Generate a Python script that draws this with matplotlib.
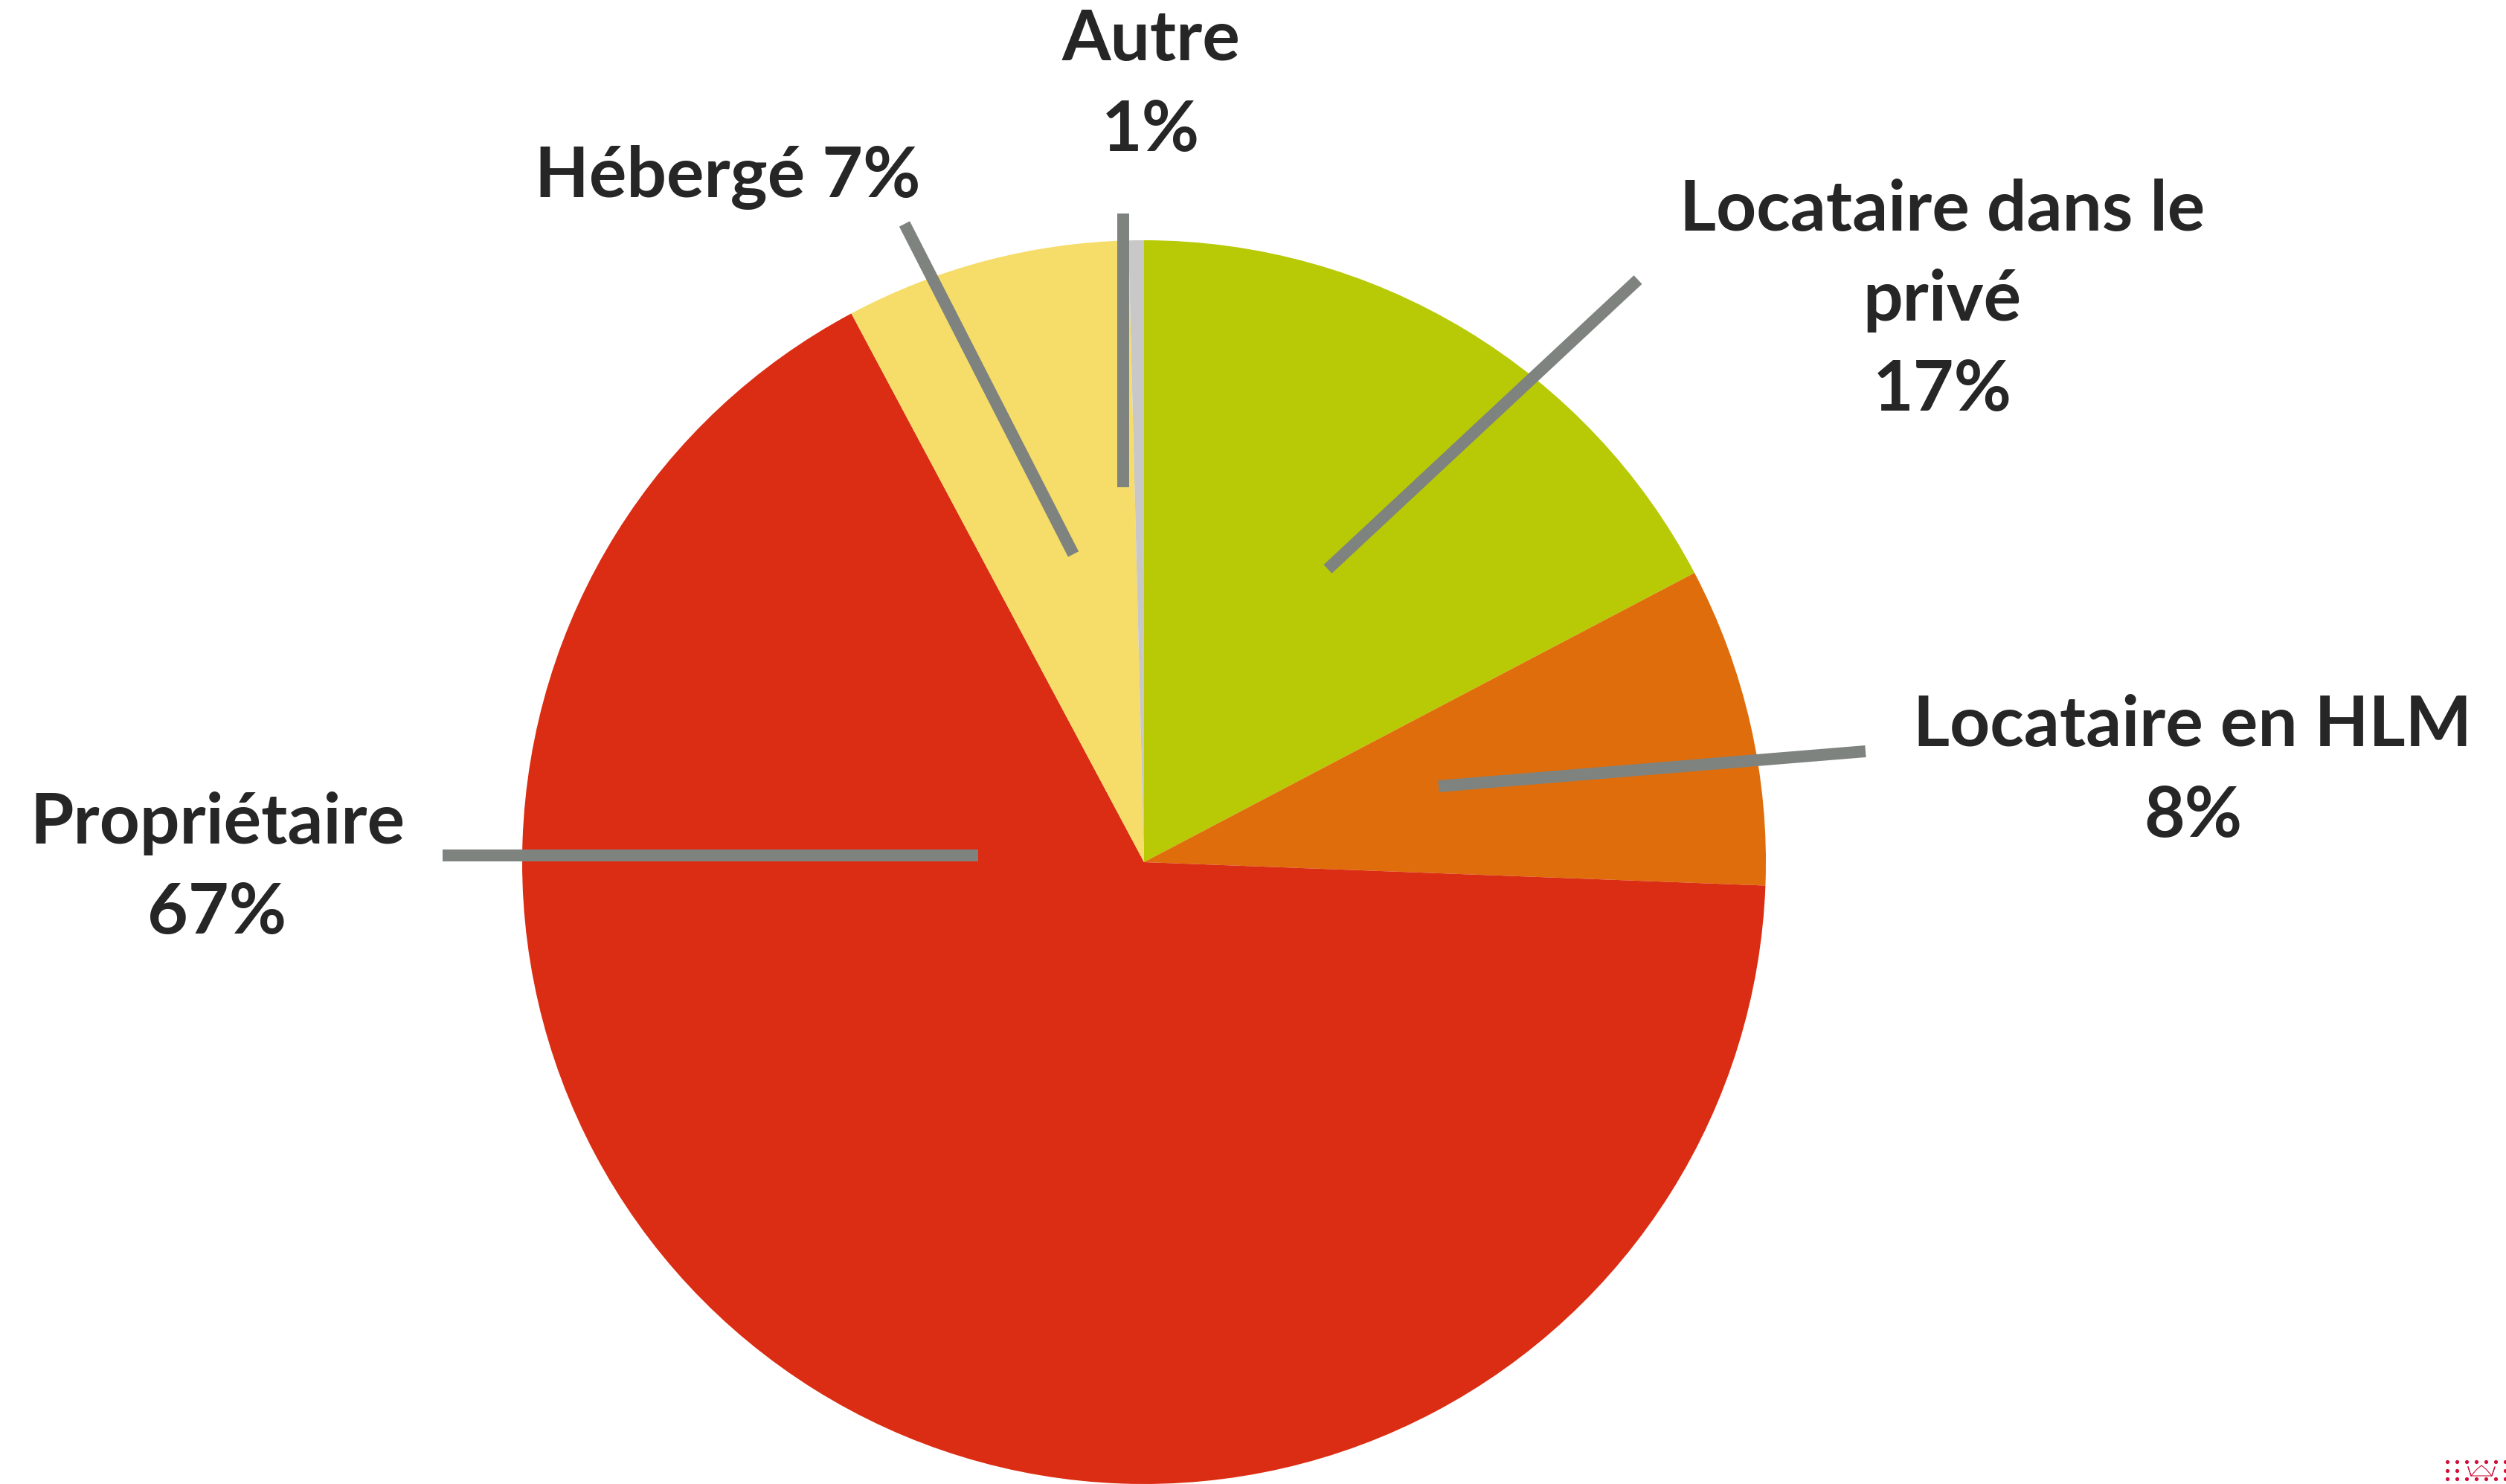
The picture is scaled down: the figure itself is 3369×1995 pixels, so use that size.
import matplotlib
matplotlib.use("Agg")
import matplotlib.pyplot as plt

W, H = 3369, 1995
DPI = 100

# Data (shares, clockwise from 12 o'clock)
categories = ["Locataire dans le privé", "Locataire en HLM", "Propriétaire", "Hébergé", "Autre"]
shares = [17.3, 8.3, 66.6, 7.4, 0.4]
label_texts = ["Locataire dans le\nprivé\n17%", "Locataire en HLM\n8%", "Propriétaire\n67%",
               "Hébergé 7%", "Autre\n1%"]
colors = ["#B8C905", "#E06D0B", "#DB2D13", "#F6DC68", "#C8C8C8"]

# Annotation layout (pixel coordinates from top-left)
label_pos = [(2611, 404), (2948, 1037), (292, 1168), (978, 238), (1547, 115)]
leader_lines = [((2202, 376), (1785, 765)),
                ((2508, 1010), (1934, 1057)),
                ((595, 1150), (1315, 1150)),
                ((1216, 301), (1443, 745)),
                ((1510, 287), (1510, 655))]

cx, cy, R = 1538, 1159, 836

fig = plt.figure(figsize=(W / DPI, H / DPI), dpi=DPI)
fig.patch.set_facecolor("white")

ax = fig.add_axes([(cx - R) / W, (H - cy - R) / H, 2 * R / W, 2 * R / H])
ax.pie(shares, colors=colors, startangle=90, counterclock=False, radius=1,
       wedgeprops=dict(linewidth=0, antialiased=True))
ax.set_xlim(-1, 1)
ax.set_ylim(-1, 1)
ax.set_aspect("equal")
ax.axis("off")

ov = fig.add_axes([0, 0, 1, 1], facecolor="none")
ov.set_xlim(0, W)
ov.set_ylim(H, 0)
ov.axis("off")

for (p0, p1) in leader_lines:
    ov.plot([p0[0], p1[0]], [p0[1], p1[1]], color="#7E8380", lw=11.5,
            solid_capstyle="butt")

for txt, (x, y) in zip(label_texts, label_pos):
    ov.text(x, y, txt, ha="center", va="center", fontsize=68, fontweight="bold",
            family=["Lato", "DejaVu Sans"], color="#262626", linespacing=1.5)

# small logo dots in the bottom-right corner
dot_x = [3290, 3303, 3316, 3329, 3342, 3355, 3368]
dot_y = [1965, 1977, 1988]
xs, ys = [], []
for j, yy in enumerate(dot_y):
    for xx in dot_x:
        if j == 1 and 3310 < xx < 3362:
            continue
        xs.append(xx)
        ys.append(yy)
ov.scatter(xs, ys, s=14, color="#D0103A", linewidths=0)
ov.plot([3318, 3322, 3330, 3336, 3342, 3350, 3354, 3350, 3322, 3318],
        [1972, 1984, 1975, 1970, 1975, 1984, 1972, 1984, 1984, 1972],
        color="#D0103A", lw=0.8)

fig.savefig("out.png", dpi=DPI, facecolor="white")
